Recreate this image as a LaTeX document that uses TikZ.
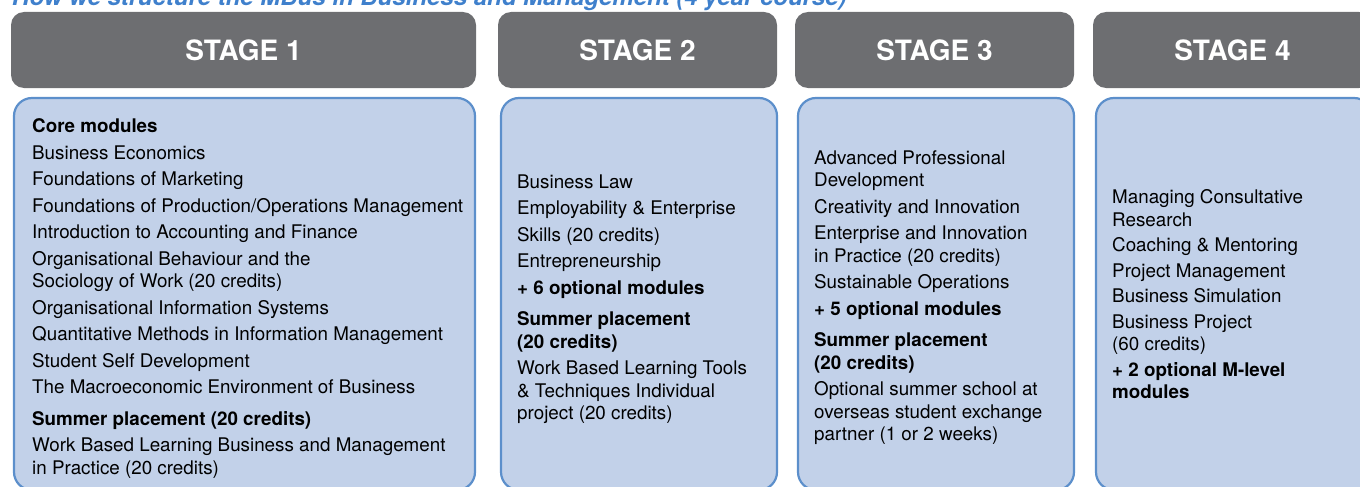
\documentclass[tikz,border=0pt]{standalone}
\usepackage{fontspec}
\setmainfont{TeX Gyre Heros}
\usetikzlibrary{positioning}

\definecolor{headgray}{HTML}{6D6E71}
\definecolor{boxfill}{HTML}{C2D1E9}
\definecolor{boxline}{HTML}{5C8FCB}
\definecolor{titleblue}{HTML}{3F80CC}

\begin{document}
\begin{tikzpicture}[
	x=1pt, y=-1pt,
	stagehead/.style={
		rectangle, rounded corners=13pt, fill=headgray, text=white,
		minimum height=76pt, inner sep=0pt,
		font=\fontsize{28}{32}\selectfont\bfseries
	},
	modbox/.style={
		rectangle, rounded corners=18pt, fill=boxfill, draw=boxline,
		line width=2.2pt, minimum height=392pt, inner sep=0pt
	},
	modlist/.style={
		anchor=north west, inner sep=0pt, align=left,
		font=\fontsize{18.8}{22.5}\selectfont
	}
]
\useasboundingbox (0,0) rectangle (1360,487);

% title, cut off at the top
\node[anchor=base west, inner sep=0pt, text=titleblue,
	font=\fontsize{24}{28}\selectfont\bfseries\itshape] (title) at (12,6)
	{How we structure the MBus in Business and Management (4 year course)};

% stage headers
\node[stagehead, minimum width=465pt] (head1) at (243.5,50) {STAGE 1};
\node[stagehead, minimum width=279pt] (head2) at (637.5,50) {STAGE 2};
\node[stagehead, minimum width=279pt] (head3) at (934.5,50) {STAGE 3};
\node[stagehead, minimum width=279pt] (head4) at (1232.5,50) {STAGE 4};

% module boxes
\node[modbox, minimum width=461pt] (box1) at (244.5,294) {};
\node[modbox, minimum width=276pt] (box2) at (639,294) {};
\node[modbox, minimum width=276pt] (box3) at (936,294) {};
\node[modbox, minimum width=276pt] (box4) at (1234,294) {};

% module lists
\node[modlist] (list1) at (32,118.5) {
	\textbf{Core modules}\\[4pt]
	Business Economics\\[4pt]
	Foundations of Marketing\\[4pt]
	Foundations of Production/Operations Management\\[4pt]
	Introduction to Accounting and Finance\\[4pt]
	Organisational Behaviour and the\\
	Sociology of Work (20 credits)\\[4pt]
	Organisational Information Systems\\[4pt]
	Quantitative Methods in Information Management\\[4pt]
	Student Self Development\\[4pt]
	The Macroeconomic Environment of Business\\[9pt]
	\textbf{Summer placement (20 credits)}\\[4pt]
	Work Based Learning Business and Management\\
	in Practice (20 credits)
};
\node[modlist] (list2) at (517,174.5) {
	Business Law\\[4pt]
	Employability \& Enterprise\\[4pt]
	Skills (20 credits)\\[4pt]
	Entrepreneurship\\[4pt]
	\textbf{+ 6 optional modules}\\[9pt]
	\textbf{Summer placement}\\
	\textbf{(20 credits)}\\[4pt]
	Work Based Learning Tools\\
	\& Techniques Individual\\
	project (20 credits)
};
\node[modlist] (list3) at (814,150.5) {
	Advanced Professional\\
	Development\\[4pt]
	Creativity and Innovation\\[4pt]
	Enterprise and Innovation\\
	in Practice (20 credits)\\[4pt]
	Sustainable Operations\\[4pt]
	\textbf{+ 5 optional modules}\\[9pt]
	\textbf{Summer placement}\\
	\textbf{(20 credits)}\\[4pt]
	Optional summer school at\\
	overseas student exchange\\
	partner (1 or 2 weeks)
};
\node[modlist] (list4) at (1112,189.5) {
	Managing Consultative\\
	Research\\[3pt]
	Coaching \& Mentoring\\[3pt]
	Project Management\\[3pt]
	Business Simulation\\[3pt]
	Business Project\\
	(60 credits)\\[3pt]
	\textbf{+ 2 optional M-level}\\
	\textbf{modules}
};

\end{tikzpicture}
\end{document}
